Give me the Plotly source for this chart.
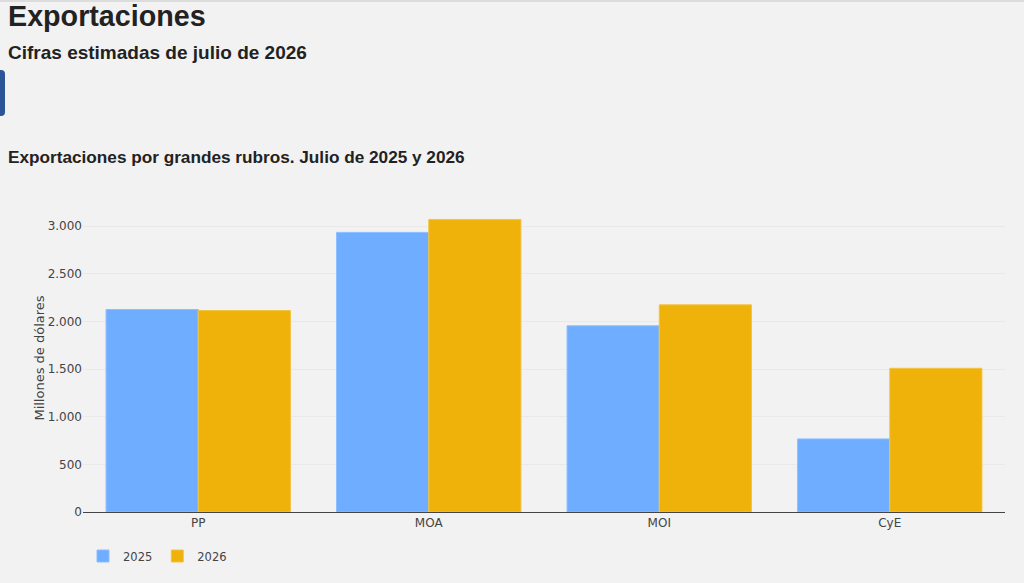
import plotly.graph_objects as go

# datos (millones de dolares)
rubros = ["PP", "MOA", "MOI", "CyE"]
anios = ["2025", "2026"]
valores_2025 = [2125, 2934, 1954, 767]
valores_2026 = [2114, 3070, 2174, 1508]
colores = ["#6eadff", "#eeb20a"]
bordes = ["#8cbfff", "#f2c444"]

W, H = 1024, 583
L, R, T, B = 83, 19, 204, 71

def px_x(p):
    return (p - L) / (W - L - R)

def px_y(p):
    return (H - B - p) / (H - T - B)

fig = go.Figure()
for anio, vals, col, borde in zip(anios, [valores_2025, valores_2026], colores, bordes):
    fig.add_trace(go.Bar(
        x=rubros, y=vals, name=anio,
        marker=dict(color=col, line=dict(color=borde, width=1)),
    ))

fig.update_layout(
    width=W, height=H,
    margin=dict(l=L, r=R, t=T, b=B),
    paper_bgcolor="#f2f2f2",
    plot_bgcolor="#f2f2f2",
    barmode="group",
    bargap=0.2,
    bargroupgap=0,
    separators=",.",
    font=dict(family="DejaVu Sans", size=11, color="#444"),
    showlegend=True,
    legend=dict(orientation="h", x=px_x(83), y=px_y(556), xanchor="left", yanchor="middle",
                font=dict(size=11.5, color="#444")),
    xaxis=dict(showline=True, linecolor="#444", linewidth=1, tickfont=dict(size=12)),
    yaxis=dict(range=[0, 3232], tickvals=[0, 500, 1000, 1500, 2000, 2500, 3000],
               tickformat=",d", gridcolor="#e9e9e9", zeroline=False,
               tickfont=dict(size=12),
               title=dict(text="Millones de dólares", font=dict(size=13, color="#444"), standoff=0)),
)

cabecera = [
    ("Exportaciones", 28.7, 16),
    ("Cifras estimadas de julio de 2026", 19, 52),
    ("Exportaciones por grandes rubros. Julio de 2025 y 2026", 17.2, 157),
]
for texto, tam, yc in cabecera:
    fig.add_annotation(
        text="<b>" + texto + "</b>", xref="paper", yref="paper",
        x=px_x(6), y=px_y(yc), xanchor="left", yanchor="middle", showarrow=False,
        font=dict(family="Liberation Sans, Arial", size=tam, color="#222"),
    )

# borde superior de la pagina y boton recortado a la izquierda
fig.add_shape(type="rect", xref="paper", yref="paper", x0=px_x(0), x1=px_x(W), y0=px_y(0), y1=px_y(2),
              fillcolor="#dcdcdc", line_width=0)
fig.add_shape(type="path", xref="paper", yref="paper",
              path="M {a},{y0} L {b},{y0} Q {c},{y0} {c},{y1} L {c},{y2} Q {c},{y3} {b},{y3} L {a},{y3} Z".format(
                  a=px_x(-4), b=px_x(1), c=px_x(5),
                  y0=px_y(70), y1=px_y(74), y2=px_y(112), y3=px_y(116)),
              fillcolor="#2b5597", line_width=0)

fig.write_html("out.html", config={"displayModeBar": False},
               post_script="document.body.style.margin='0';document.body.style.background='#f2f2f2';")
